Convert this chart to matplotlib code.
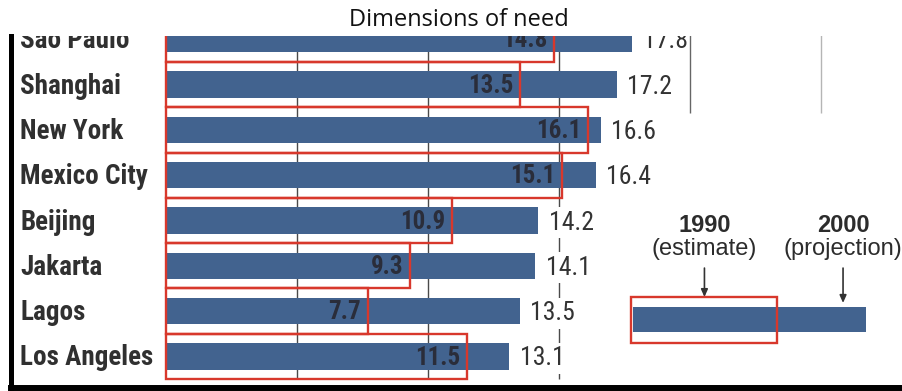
import matplotlib.pyplot as plt

# data (millions)
cities = ["Sao Paulo", "Shanghai", "New York", "Mexico City",
          "Beijing", "Jakarta", "Lagos", "Los Angeles"]
pop_1990 = [14.8, 13.5, 16.1, 15.1, 10.9, 9.3, 7.7, 11.5]
pop_2000 = [17.8, 17.2, 16.6, 16.4, 14.2, 14.1, 13.5, 13.1]
grid_lines = [5, 10, 15]
top_lines = [20, 25]

BLUE = "#42638f"
RED = "#d8382c"
INK = "#2c2c2c"
NARROW = "Roboto Condensed"

fig = plt.figure(figsize=(9.02, 3.91), dpi=100)
W, H = 902, 391
# axes box in pixels: left 10.5, right 902, top 36, bottom 388
ax = fig.add_axes([10.5 / W, 3 / H, (W - 10.5) / W, (388 - 36) / H])
ax.set_xlim(-5.935, 28.09)
ax.set_ylim(7.697, -0.0728)

rows = list(range(len(cities)))

# gridlines behind the bars
ax.vlines(grid_lines, -0.5, 7.5, color="#4a4a4a", lw=1.0, zorder=1)
ax.vlines(top_lines[0], -0.6, 1.63, color="#666666", lw=1.0, zorder=6)
ax.vlines(top_lines[1], -0.6, 1.63, color="#b5b5b5", lw=1.0, zorder=6)

# 2000 bars and 1990 outline boxes
ax.barh(rows, pop_2000, height=0.58, color=BLUE, zorder=2)
ax.barh(rows, pop_1990, height=1.0, fill=False, edgecolor=RED, linewidth=1.7, zorder=4)

for i, (name, a, b) in enumerate(zip(cities, pop_1990, pop_2000)):
    ax.text(-5.57, i + 0.2, name, ha="left", va="baseline", fontsize=19.5,
            fontweight="bold", family=NARROW, color="#303030", clip_on=True)
    ax.text(a - 0.25, i + 0.18, f"{a}", ha="right", va="baseline", fontsize=18,
            fontweight="bold", family=NARROW, color="#2a2d3a", clip_on=True, zorder=3)
    ax.text(b + 0.4, i + 0.2, f"{b}", ha="left", va="baseline", fontsize=18.5,
            family=NARROW, color="#333333", clip_on=True, zorder=5,
            bbox=dict(fc="white", ec="none", pad=2.5))

# key
ax.barh([6.19], [26.7 - 17.82], left=17.82, height=0.55, color=BLUE, zorder=2)
ax.barh([6.195], [23.32 - 17.75], left=17.75, height=1.01, fill=False,
        edgecolor=RED, linewidth=1.7, zorder=4)
for x, year, note, tip in [(20.55, "1990", "(estimate)", 5.69),
                           (25.84, "2000", "(projection)", 5.82)]:
    ax.text(x, 4.25, year, ha="center", va="baseline", fontsize=17,
            fontweight="bold", family="Liberation Sans", color=INK)
    ax.text(x, 4.76, note, ha="center", va="baseline", fontsize=17,
            family="Liberation Sans", color=INK)
    ax.annotate("", xy=(x, tip), xytext=(x, 5.05),
                arrowprops=dict(arrowstyle="-|>,head_length=0.45,head_width=0.2",
                                color="#333333", lw=1.2, shrinkA=0, shrinkB=0))

ax.set_xticks([])
ax.set_yticks([])
for side in ["top", "right"]:
    ax.spines[side].set_visible(False)
ax.spines["left"].set_linewidth(3.6)
ax.spines["bottom"].set_linewidth(4.3)
ax.spines["left"].set_color("black")
ax.spines["bottom"].set_color("black")

fig.text(459 / W, 1 - 26 / H, "Dimensions of need", ha="center", va="baseline",
         fontsize=17, family="Open Sans", color="#111111")

fig.savefig("out.png", dpi=100)
